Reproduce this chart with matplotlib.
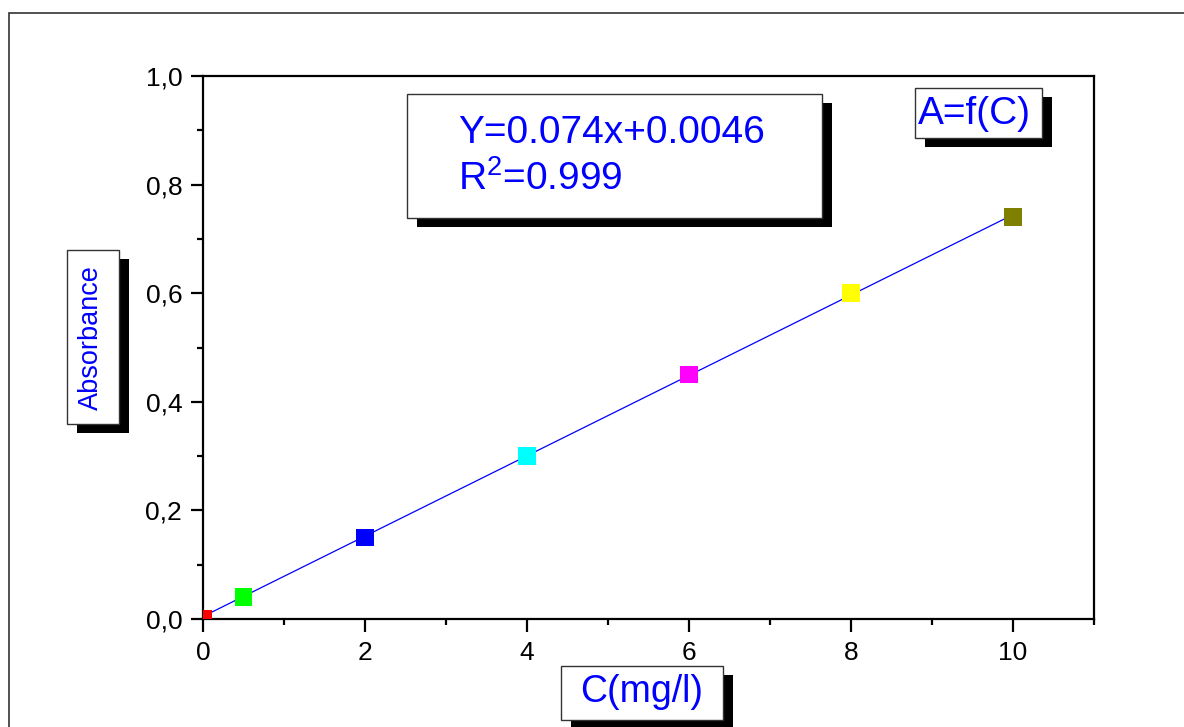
import matplotlib.pyplot as plt
from matplotlib.patches import Rectangle

plt.rcParams['font.family'] = ['Liberation Sans', 'DejaVu Sans']
plt.rcParams['mathtext.fontset'] = 'custom'
plt.rcParams['mathtext.rm'] = 'Liberation Sans'

# calibration data
conc = [0, 0.5, 2, 4, 6, 8, 10]
absorb = [0.0, 0.04, 0.15, 0.30, 0.45, 0.60, 0.74]
colors = ['#ff0000', '#00ff00', '#0000ff', '#00ffff', '#ff00ff', '#ffff00', '#808000']
slope, intercept = 0.074, 0.0046

xticks = [0, 2, 4, 6, 8, 10]
yticks = [0.0, 0.2, 0.4, 0.6, 0.8, 1.0]
ytick_labels = ['0,0', '0,2', '0,4', '0,6', '0,8', '1,0']

W, H = 1184, 727
fig = plt.figure(figsize=(W / 100, H / 100), dpi=100)
ax = fig.add_axes([203 / W, 1 - 619 / H, (1094 - 203) / W, (619 - 76) / H])

fit_x = [conc[0], conc[-1]]
fit_y = [slope * v + intercept for v in fit_x]
ax.plot(fit_x, fit_y, color='#0000ff', lw=0.9, zorder=2)
ax.scatter(conc, absorb, c=colors, marker='s', s=160, linewidths=0, zorder=3)

ax.set_xlim(0, 11)
ax.set_ylim(0, 1.0)
ax.set_xticks(xticks)
ax.set_xticks([1, 3, 5, 7, 9, 11], minor=True)
ax.set_yticks(yticks)
ax.set_yticklabels(ytick_labels)
ax.set_yticks([0.1, 0.3, 0.5, 0.7, 0.9], minor=True)
for s in ax.spines.values():
    s.set_linewidth(1.6)
ax.tick_params(which='major', direction='out', length=9, width=1.6, labelsize=19, pad=6)
ax.tick_params(which='minor', direction='out', length=4.5, width=1.6)
ax.tick_params(axis='x', which='major', pad=7)


def px(x, y):
    return x / W, 1 - y / H


def shadow_box(x0, y0, x1, y1, dx=10, dy=9):
    # black drop shadow, then white box with thin border (pixel coords, top-left origin)
    w, h = (x1 - x0) / W, (y1 - y0) / H
    fig.add_artist(Rectangle(px(x0 + dx, y1 + dy), w, h, transform=fig.transFigure,
                             facecolor='black', edgecolor='none', zorder=5))
    fig.add_artist(Rectangle(px(x0, y1), w, h, transform=fig.transFigure,
                             facecolor='white', edgecolor='#333333', lw=1, zorder=6))


blue = '#0000ff'

# outer frame
fig.add_artist(Rectangle(px(9, 1000), 2, (1000 - 13) / H, transform=fig.transFigure,
                         fill=False, edgecolor='#333333', lw=1.2))

# equation box
shadow_box(407, 94, 822, 218)
fig.text(*px(458, 143), 'Y=0.074x+0.0046', color=blue, fontsize=28, va='baseline', zorder=7)
fig.text(*px(458, 190), 'R$^{\\mathregular{2}}$=0.999', color=blue, fontsize=28,
         va='baseline', zorder=7)

# series label box
shadow_box(915, 88, 1042, 138)
fig.text(*px(974, 124), 'A=f(C)', color=blue, fontsize=28, va='baseline', ha='center', zorder=7)

# y label box
shadow_box(67, 250, 119, 424)
fig.text(*px(91, 338), 'Absorbance', color=blue, fontsize=19.5, rotation=90,
         va='center', ha='center', zorder=7)

# x label box
shadow_box(561, 666, 723, 720)
fig.text(*px(642, 702), 'C(mg/l)', color=blue, fontsize=27, va='baseline', ha='center', zorder=7)

fig.savefig('out.png', dpi=100)
